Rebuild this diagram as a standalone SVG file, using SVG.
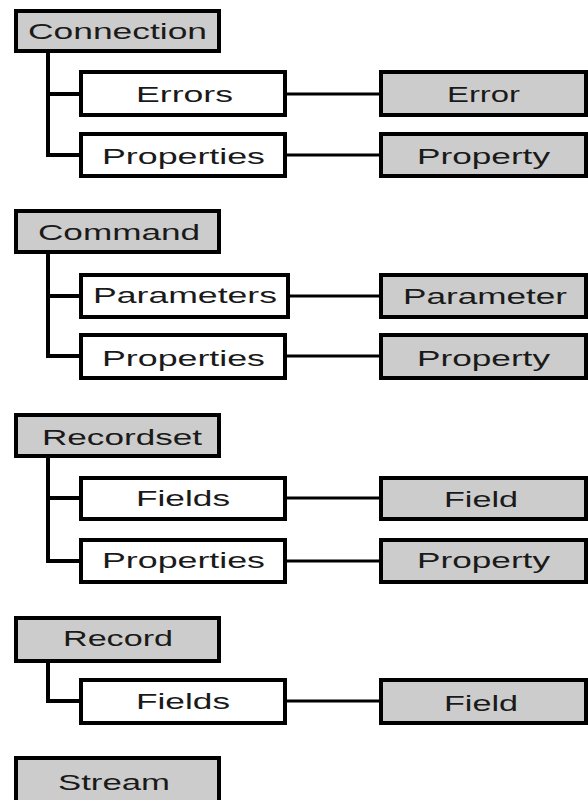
<svg xmlns="http://www.w3.org/2000/svg" width="588" height="800" viewBox="0 0 588 800">
<style>
.p{fill:#cccccc;stroke:#000;stroke-width:4}
.c{fill:#ffffff;stroke:#000;stroke-width:4}
text{font-family:"Liberation Sans","DejaVu Sans",Arial,sans-serif;font-size:22px;fill:#1a1a1a}
.sp{stroke:#000;stroke-width:4;fill:none}
.ln{stroke:#000;stroke-width:3;fill:none}
</style>
<rect width="588" height="800" fill="#fff"/>
<g id="connectors">
<path class="sp" d="M48 53V155H81M48 94H81"/>
<path class="ln" d="M287 94H381M287 155H381"/>
<path class="sp" d="M48 254V356H81M48 296H81"/>
<path class="ln" d="M290 296H381M287 356H381"/>
<path class="sp" d="M48 458V561H81M48 498H81"/>
<path class="ln" d="M287 498H381M287 561H381"/>
<path class="sp" d="M48 663V701H81"/>
<path class="ln" d="M287 701H381"/>
</g>
<g id="connection"><rect class="p" x="16" y="11" width="203" height="40"/><text x="28" y="39" textLength="179" lengthAdjust="spacingAndGlyphs">Connection</text></g>
<g id="errors"><rect class="c" x="81" y="72" width="204" height="43"/><text x="136" y="102" textLength="97" lengthAdjust="spacingAndGlyphs">Errors</text></g>
<g id="error"><rect class="p" x="381" y="72" width="205" height="43"/><text x="447" y="102" textLength="73" lengthAdjust="spacingAndGlyphs">Error</text></g>
<g id="conn-properties"><rect class="c" x="81" y="134" width="204" height="42"/><text x="102" y="164" textLength="163" lengthAdjust="spacingAndGlyphs">Properties</text></g>
<g id="conn-property"><rect class="p" x="381" y="134" width="205" height="42"/><text x="417" y="164" textLength="133" lengthAdjust="spacingAndGlyphs">Property</text></g>

<g id="command"><rect class="p" x="16" y="211" width="203" height="41"/><text x="38" y="240" textLength="162" lengthAdjust="spacingAndGlyphs">Command</text></g>
<g id="parameters"><rect class="c" x="81" y="275" width="207" height="42"/><text x="93" y="303" textLength="184" lengthAdjust="spacingAndGlyphs">Parameters</text></g>
<g id="parameter"><rect class="p" x="381" y="275" width="205" height="42"/><text x="403" y="304" textLength="164" lengthAdjust="spacingAndGlyphs">Parameter</text></g>
<g id="cmd-properties"><rect class="c" x="81" y="335" width="204" height="43"/><text x="102" y="366" textLength="163" lengthAdjust="spacingAndGlyphs">Properties</text></g>
<g id="cmd-property"><rect class="p" x="381" y="335" width="205" height="43"/><text x="417" y="366" textLength="133" lengthAdjust="spacingAndGlyphs">Property</text></g>

<g id="recordset"><rect class="p" x="16" y="415" width="203" height="41"/><text x="42" y="445" textLength="160" lengthAdjust="spacingAndGlyphs">Recordset</text></g>
<g id="rs-fields"><rect class="c" x="81" y="478" width="204" height="41"/><text x="136" y="506" textLength="94" lengthAdjust="spacingAndGlyphs">Fields</text></g>
<g id="rs-field"><rect class="p" x="381" y="478" width="205" height="41"/><text x="444" y="507" textLength="74" lengthAdjust="spacingAndGlyphs">Field</text></g>
<g id="rs-properties"><rect class="c" x="81" y="540" width="204" height="42"/><text x="102" y="568" textLength="163" lengthAdjust="spacingAndGlyphs">Properties</text></g>
<g id="rs-property"><rect class="p" x="381" y="540" width="205" height="42"/><text x="417" y="568" textLength="133" lengthAdjust="spacingAndGlyphs">Property</text></g>

<g id="record"><rect class="p" x="16" y="618" width="203" height="43"/><text x="63" y="646" textLength="110" lengthAdjust="spacingAndGlyphs">Record</text></g>
<g id="rec-fields"><rect class="c" x="81" y="680" width="204" height="43"/><text x="136" y="709" textLength="94" lengthAdjust="spacingAndGlyphs">Fields</text></g>
<g id="rec-field"><rect class="p" x="381" y="680" width="205" height="43"/><text x="444" y="711" textLength="74" lengthAdjust="spacingAndGlyphs">Field</text></g>

<g id="stream"><rect class="p" x="16" y="758" width="203" height="50"/><text x="58" y="790" textLength="112" lengthAdjust="spacingAndGlyphs">Stream</text></g>
</svg>
